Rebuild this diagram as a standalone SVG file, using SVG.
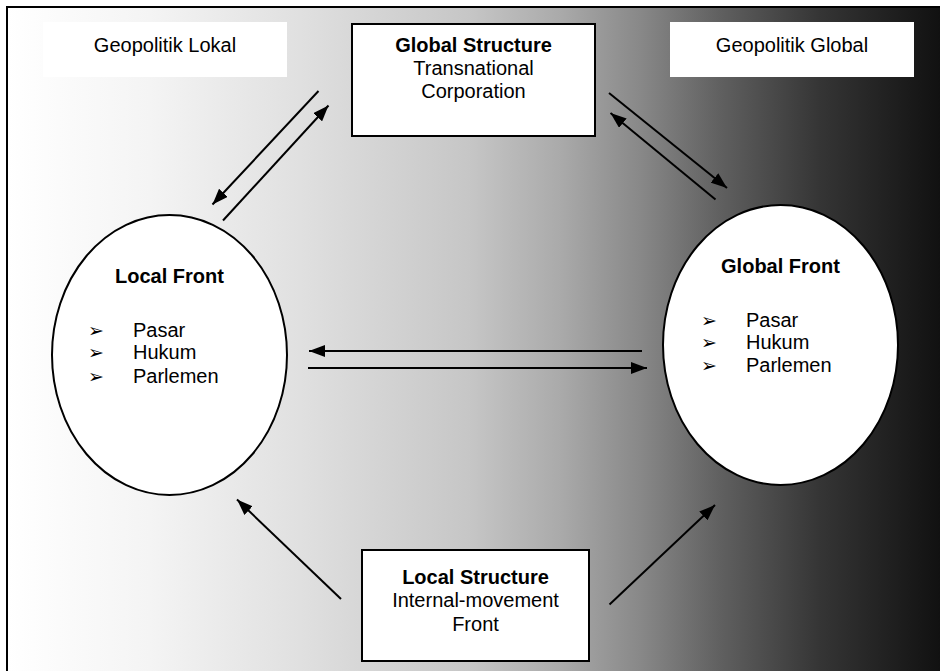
<svg xmlns="http://www.w3.org/2000/svg" width="940" height="671" viewBox="0 0 940 671">
<defs>
<linearGradient id="bg" gradientUnits="userSpaceOnUse" x1="7" y1="0" x2="940" y2="0">
<stop offset="0" stop-color="#ffffff"/>
<stop offset="0.153" stop-color="#f4f4f4"/>
<stop offset="0.314" stop-color="#e0e0e0"/>
<stop offset="0.496" stop-color="#c6c6c6"/>
<stop offset="0.593" stop-color="#aaaaaa"/>
<stop offset="0.679" stop-color="#888888"/>
<stop offset="0.764" stop-color="#606060"/>
<stop offset="0.871" stop-color="#353535"/>
<stop offset="1" stop-color="#111111"/>
</linearGradient>
<marker id="ahb" viewBox="0 0 16 12" refX="16" refY="6" markerWidth="16" markerHeight="12" markerUnits="userSpaceOnUse" orient="auto">
<path d="M0,0 L16,6 L0,12 z" fill="#000"/>
</marker>
</defs>
<style>
text{font-family:"Liberation Sans",Arial,sans-serif;font-size:20px;fill:#000}
.b{font-weight:bold}
.m{text-anchor:middle}
.box{fill:#fff;stroke:#000;stroke-width:2}
.lbl{fill:#fff;stroke:none}
.ell{fill:#fff;stroke:#000;stroke-width:2}
.bul{font-family:"DejaVu Sans",sans-serif;font-size:19px}
.con line{stroke:#000;stroke-width:2;marker-end:url(#ahb)}
</style>
<rect x="7" y="7" width="933" height="664" fill="url(#bg)"/>
<path d="M7,671 L7,7 L940,7" fill="none" stroke="#000" stroke-width="2"/>
<g id="geopolitik-lokal">
<rect class="lbl" x="43" y="22" width="244" height="55"/>
<text class="m" x="165" y="52">Geopolitik Lokal</text>
</g>
<g id="geopolitik-global">
<rect class="lbl" x="670" y="22" width="244" height="55"/>
<text class="m" x="792" y="52">Geopolitik Global</text>
</g>
<g id="global-structure">
<rect class="box" x="352" y="24" width="243" height="112"/>
<text class="m b" x="473.5" y="52">Global Structure</text>
<text class="m" x="473.5" y="75">Transnational</text>
<text class="m" x="473.5" y="98">Corporation</text>
</g>
<g id="local-structure">
<rect class="box" x="362" y="550" width="227" height="111"/>
<text class="m b" x="475.5" y="584">Local Structure</text>
<text class="m" x="475.5" y="607">Internal-movement</text>
<text class="m" x="475.5" y="631">Front</text>
</g>
<g id="local-front">
<ellipse class="ell" cx="169.5" cy="355" rx="117.5" ry="140"/>
<text class="m b" x="169.5" y="283">Local Front</text>
<text class="bul" x="88" y="337">➢</text>
<text x="133" y="337">Pasar</text>
<text class="bul" x="88" y="359">➢</text>
<text x="133" y="359">Hukum</text>
<text class="bul" x="88" y="383">➢</text>
<text x="133" y="383">Parlemen</text>
</g>
<g id="global-front">
<ellipse class="ell" cx="780.5" cy="345" rx="117.5" ry="140"/>
<text class="m b" x="780.5" y="273">Global Front</text>
<text class="bul" x="701" y="327">➢</text>
<text x="746" y="327">Pasar</text>
<text class="bul" x="701" y="349">➢</text>
<text x="746" y="349">Hukum</text>
<text class="bul" x="701" y="372">➢</text>
<text x="746" y="372">Parlemen</text>
</g>
<g id="connectors" class="con">
<line x1="318.5" y1="91" x2="212.5" y2="204.5"/>
<line x1="223" y1="220.5" x2="328.5" y2="105.5"/>
<line x1="609" y1="93" x2="727" y2="188"/>
<line x1="715.5" y1="199.5" x2="610.5" y2="113"/>
<line x1="642" y1="351" x2="309" y2="351"/>
<line x1="308" y1="368" x2="647" y2="368"/>
<line x1="341" y1="599" x2="237" y2="499.5"/>
<line x1="609.5" y1="604.5" x2="715" y2="505"/>
</g>
</svg>
